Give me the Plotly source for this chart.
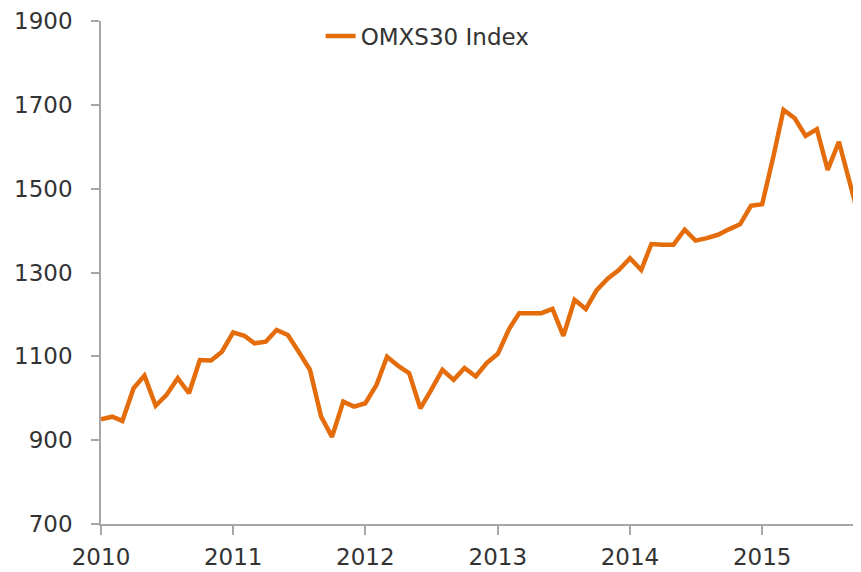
import plotly.graph_objects as go

# Monthly OMXS30 index levels, Jan 2010 - Oct 2015
years = [2010, 2011, 2012, 2013, 2014, 2015]
months = [f"{y}-{m:02d}-01" for y in years for m in range(1, 13)][:70]

omxs30 = [
    950, 956, 946, 1024, 1054, 982, 1008, 1048, 1012, 1091, 1090, 1111,
    1157, 1149, 1131, 1135, 1163, 1151, 1111, 1068, 956, 908, 992, 980,
    988, 1032, 1099, 1077, 1060, 976, 1020, 1068, 1044, 1072, 1052, 1084,
    1106, 1165, 1203, 1203, 1203, 1213, 1149, 1235, 1213, 1258, 1286, 1306,
    1334, 1306, 1368, 1366, 1366, 1402, 1376, 1382, 1390, 1403, 1415, 1459,
    1463, 1577, 1688, 1668, 1626, 1642, 1545, 1612, 1513, 1414,
]

y_ticks = [700, 900, 1100, 1300, 1500, 1700, 1900]

FONT = "DejaVu Sans"
TXT = "#333333"
AXIS = "#A6A6A6"

fig = go.Figure()
fig.add_trace(go.Scatter(
    x=months, y=omxs30, mode="lines", name="OMXS30 Index",
    line=dict(color="#E46C0A", width=4.5),
    cliponaxis=False,
))

# page body has an 8px margin, so the figure is offset by 8px
fig.update_layout(
    width=853, height=564,
    margin=dict(l=93, r=0, t=13, b=48, autoexpand=False),
    paper_bgcolor="white", plot_bgcolor="white",
    font=dict(family=FONT, size=23, color=TXT),
    showlegend=True,
    legend=dict(x=0.289, xanchor="left", y=0.97, yanchor="middle",
                bgcolor="rgba(0,0,0,0)", font=dict(size=23, color=TXT)),
    xaxis=dict(
        type="date", range=["2010-01-01", "2015-10-01"],
        tick0="2010-01-01", dtick="M12", tickformat="%Y",
        showgrid=False, zeroline=False, automargin=False,
        showline=True, linecolor=AXIS, linewidth=1.5,
        ticks="outside", ticklen=9, tickcolor=AXIS, tickwidth=1.5,
        ticklabelstandoff=3,
    ),
    yaxis=dict(
        range=[700, 1900], tickvals=y_ticks,
        showgrid=False, zeroline=False, automargin=False,
        showline=True, linecolor=AXIS, linewidth=1.5,
        ticks="outside", ticklen=8, tickcolor=AXIS, tickwidth=1.5,
        ticklabelstandoff=14,
    ),
)

fig.write_html("out.html")
